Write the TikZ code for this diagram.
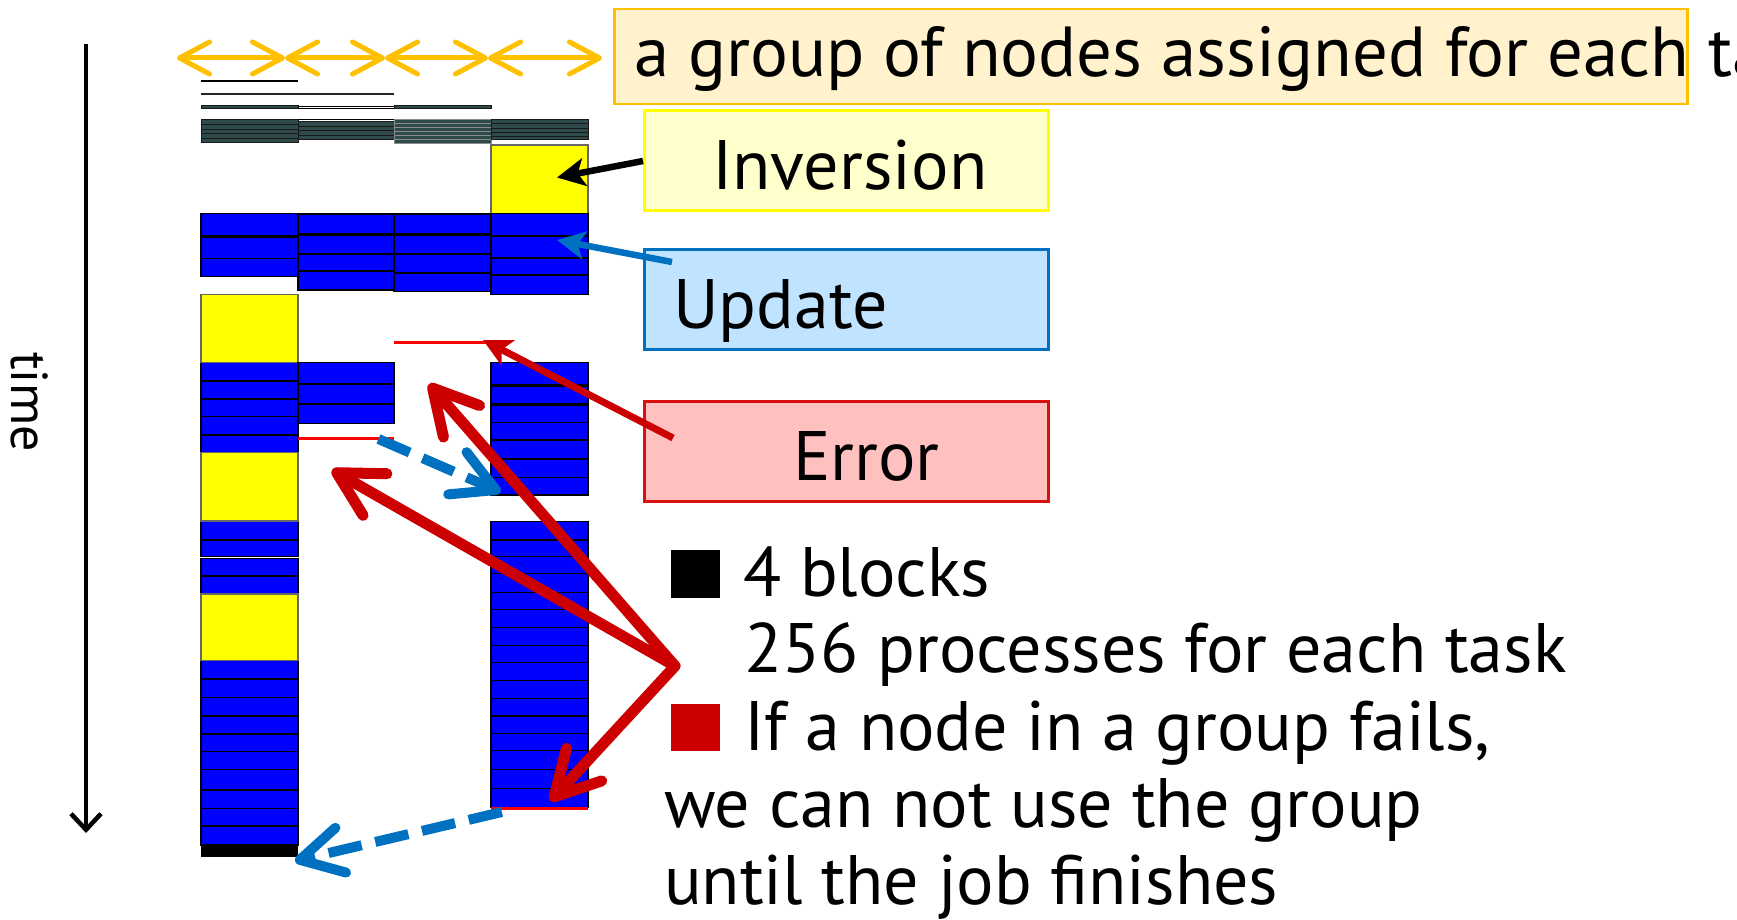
\documentclass[tikz,border=0pt]{standalone}
\usepackage{fontspec}
\setmainfont{PT Sans}
\usetikzlibrary{arrows.meta}
\definecolor{bblue}{HTML}{0000FF}
\definecolor{byel}{HTML}{FFFF00}
\definecolor{slate}{HTML}{2F4A4A}
\definecolor{gorange}{HTML}{FFC000}
\definecolor{gofill}{HTML}{FFF2CC}
\definecolor{invfill}{HTML}{FFFFCC}
\definecolor{updfill}{HTML}{C0E4FF}
\definecolor{updline}{HTML}{0070C0}
\definecolor{errfill}{HTML}{FFC0C0}
\definecolor{errline}{HTML}{D81010}
\definecolor{darkred}{HTML}{CC0000}
\definecolor{mred}{HTML}{FF0000}
\begin{document}
\begin{tikzpicture}[x=1pt,y=-1pt,
  bblk/.style={fill=bblue,draw=black,line width=1.2pt},
  yblk/.style={fill=byel,draw=black!60,line width=1.2pt},
  sblk/.style={fill=slate,draw=black!90,line width=0.9pt},
  errl/.style={draw=mred,line width=2.7pt},
  big/.style={inner sep=0pt,anchor=base west,font=\fontsize{70}{82}\selectfont},
  box/.style={anchor=north west,inner sep=0pt,line width=2.5pt},
  grouparr/.style={draw=gorange,line width=5pt,line cap=round,
     {Straight Barb[length=30pt,width=32pt,round]}-{Straight Barb[length=30pt,width=32pt,round]}},
  callout/.style={line width=6.5pt,-{Stealth[length=28pt,width=28pt,inset=7pt]}},
  redarr/.style={draw=darkred,line width=11pt,line cap=round,-{Straight Barb[length=44pt,width=48pt,round]}},
  bluedash/.style={draw=updline,line width=10pt,dash pattern=on 34pt off 14pt,-{Straight Barb[length=42pt,width=46pt,round]}}
]
\useasboundingbox (0,0) rectangle (1737,920);
\clip (0,0) rectangle (1737,920);

% ---------- top thin lines ----------
\draw[line width=2.2pt,black] (201,81) -- (298,81);
\draw[line width=2.2pt,black!85] (201,94.3) -- (394,94.3);
\path[sblk] (201,105.6) rectangle (298,108.6);
\path[draw=black,fill=white,line width=0.9pt] (298,106.2) rectangle (394,108.6);
\path[sblk] (394,105.6) rectangle (491,108.6);

% ---------- top stripe block ----------
\foreach \a/\b in {119/124,124/129,129/133.5,133.5/138,138/142.5}
  \path[sblk] (201,\a) rectangle (298,\b);
\path[draw=black,fill=white,line width=0.9pt] (298,119) rectangle (394,121.5);
\foreach \a/\b in {121.5/126,126/130.5,130.5/135,135/139}
  \path[sblk] (298,\a) rectangle (394,\b);
\foreach \a/\b in {119/123,123/127,127/131,131/135,135/139,139/143.3}
  \path[sblk,draw=black!45] (394,\a) rectangle (491,\b);
\foreach \a/\b in {119/123.5,123.5/128,128/132.5,132.5/136,136/139}
  \path[sblk] (491,\a) rectangle (588,\b);

% ---------- column 1 ----------
\foreach \a/\b in {213.3/236,237.3/258.3,258.3/276.7,362.7/380.7,381.3/398.3,399/416.7,416.7/434.3,435/452.3,521/539.3,540/556.7,558.7/576,576.7/594,660.7/679,679/697.3,697.3/716,716/734,734/751.7,751.7/769.3,769.3/790,790/808.3,808.3/826,826/845}
  \path[bblk] (201,\a) rectangle (298,\b);
\foreach \a/\b in {294.3/362.7,452.3/521,594/660.7}
  \path[yblk] (201,\a) rectangle (298,\b);
\fill[black] (201,845) rectangle (298,857.3);

% ---------- column 2 ----------
\foreach \a/\b in {214/234,235.7/253.3,254/270.7,271.7/290,362.7/384,384/403.3,404/423.3}
  \path[bblk] (298,\a) rectangle (394,\b);
\draw[errl] (298,438.7) -- (394,438.7);

% ---------- column 3 ----------
\foreach \a/\b in {214/234,235.7/254,254.7/272.7,273.3/291.3}
  \path[bblk] (394,\a) rectangle (491,\b);
\draw[errl] (394,342.5) -- (491,342.5);

% ---------- column 4 ----------
\path[yblk] (491,145) rectangle (588,213.3);
\foreach \a/\b in {213.3/236,236.7/257.7,258.3/275,275.7/294.3,362.7/385,386/404,405/422.3,422.3/440,440.7/458.3,459/477.3,477.3/495,521.7/540,540/556.7,556.7/573.3,573.3/592.7,592.7/609.3,609.3/627.3,627.3/645.7,645.7/662.7,662.7/680.3,680.3/698.3,698.3/716,716/733.3,733.3/750.7,750.7/769.3,769.3/788.3,788.3/807.7}
  \path[bblk] (491,\a) rectangle (588,\b);
\draw[errl,line width=3.2pt] (491,808.6) -- (588,808.6);

% ---------- time axis ----------
\coordinate (t0) at (86,44);
\coordinate (t1) at (86,833);
\draw[line width=4.5pt,-{Straight Barb[length=16pt,width=30pt]}] (t0) -- (t1);
\node[rotate=-90,anchor=base west,inner sep=0pt,font=\fontsize{52}{60}\selectfont] (timelbl) at (12,352) {time};

% ---------- group arrows ----------
\coordinate (g0) at (177,58);
\coordinate (g1) at (285,58);
\coordinate (g2) at (385,58);
\coordinate (g3) at (488,58);
\coordinate (g4) at (602,58);
\draw[grouparr] (g0) -- (g1);
\draw[grouparr] (g1) -- (g2);
\draw[grouparr] (g2) -- (g3);
\draw[grouparr] (g3) -- (g4);

% ---------- boxes ----------
\node[box,draw=gorange,fill=gofill,minimum width=1073pt,minimum height=95pt] (grp) at (613,8) {};
\node[big,font=\fontsize{70.8}{82}\selectfont] (grpt) at (634,77) {a group of nodes assigned for each task};
\node[box,draw=byel,fill=invfill,line width=3pt,minimum width=404pt,minimum height=100pt] (inv) at (643,109.5) {};
\node[big] (invt) at (712,190) {Inversion};
\node[box,draw=updline,fill=updfill,minimum width=404pt,minimum height=100pt] (upd) at (643,248) {};
\node[big] (updt) at (673,328) {Update};
\node[box,draw=errline,fill=errfill,minimum width=404pt,minimum height=100pt] (err) at (643,400) {};
\node[big] (errt) at (793,480) {Error};

% ---------- legend ----------
\node[anchor=north west,inner sep=0pt,fill=black,minimum width=49pt,minimum height=48pt] (sqk) at (671,550) {};
\node[big] (l1) at (743,596.5) {4 blocks};
\node[big] (l2) at (744,672.5) {256 processes for each task};
\node[anchor=north west,inner sep=0pt,fill=darkred,minimum width=49pt,minimum height=47pt] (sqr) at (671,704) {};
\node[big] (l3) at (744,750.5) {If a node in a group fails,};
\node[big] (l4) at (664,827) {we can not use the group};
\node[big] (l5) at (664,904) {until the job finishes};

% ---------- callout arrows ----------
\coordinate (tipI) at (557,177.5);
\draw[callout,black] (inv.west) -- (tipI);
\coordinate (uS) at (672,262);
\coordinate (tipU) at (557,240);
\draw[callout,updline] (uS) -- (tipU);
\coordinate (eS) at (673,438);
\coordinate (tipE) at (483,340);
\draw[callout,darkred,line width=7pt] (eS) -- (tipE);

% ---------- red arrows ----------
\coordinate (P) at (675,666);
\coordinate (R1) at (429,384);
\coordinate (R2) at (332,470);
\coordinate (R3) at (550.5,801);
\draw[redarr] (P) -- (R1);
\draw[redarr] (P) -- (R2);
\draw[redarr] (P) -- (R3);

% ---------- blue dashed arrows ----------
\coordinate (d1s) at (378.5,439);
\coordinate (d1e) at (500.5,492);
\coordinate (d2s) at (501.8,812);
\coordinate (d2e) at (295,861);
\draw[bluedash] (d1s) -- (d1e);
\draw[bluedash] (d2s) -- (d2e);
\end{tikzpicture}
\end{document}
